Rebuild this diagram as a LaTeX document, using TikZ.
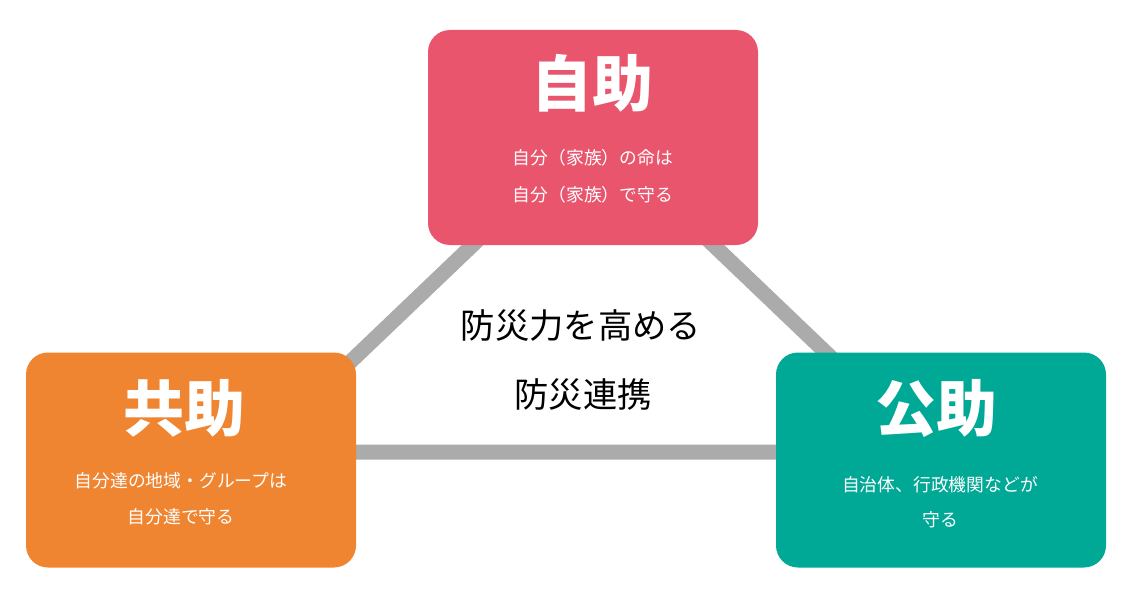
\documentclass[tikz,border=0pt]{standalone}
\usepackage{fontspec}
\setmainfont{Noto Sans CJK JP}
\definecolor{jpink}{HTML}{E8556C}
\definecolor{jorange}{HTML}{EF8431}
\definecolor{jteal}{HTML}{00A896}
\definecolor{jgray}{HTML}{ABABAB}
\tikzset{
  box/.style={rounded corners=22pt, minimum width=330pt, minimum height=215pt, inner sep=0pt, draw=none},
  title/.style={text=white, font=\fontsize{61}{61}\selectfont\bfseries, inner sep=0pt},
  sub/.style={text=white, font=\fontsize{17.8}{17.8}\selectfont, inner sep=0pt},
  mid/.style={text=black, font=\fontsize{34.3}{34.3}\selectfont, inner sep=0pt},
  link/.style={draw=jgray, line width=15pt}
}
\begin{document}
\begin{tikzpicture}[x=1pt, y=-1pt]
\useasboundingbox (0,0) rectangle (1130,594);
% triangle
\coordinate (apex) at (593,130);
\coordinate (bl) at (256,452);
\coordinate (br) at (930,452);
\draw[link] (bl) -- (apex) -- (br) -- cycle;
% boxes
\node[box, fill=jpink] (self) at (593,137.5) {};
\node[box, fill=jorange] (mutual) at (191,460) {};
\node[box, fill=jteal] (public) at (941,460) {};
% titles
\node[title] (selfT) at (592,83) {自助};
\node[title] (mutualT) at (184,408) {共助};
\node[title] (publicT) at (936,408) {公助};
% sub texts
\node[sub] (selfA) at (593,158) {自分（家族）の命は};
\node[sub] (selfB) at (593,195) {自分（家族）で守る};
\node[sub] (mutualA) at (181,481) {自分達の地域・グループは};
\node[sub] (mutualB) at (181,517) {自分達で守る};
\node[sub] (publicA) at (940,485) {自治体、行政機関などが};
\node[sub] (publicB) at (940,520) {守る};
% center
\node[mid] (midA) at (581,326) {防災力を高める};
\node[mid] (midB) at (583,395) {防災連携};
\end{tikzpicture}
\end{document}
